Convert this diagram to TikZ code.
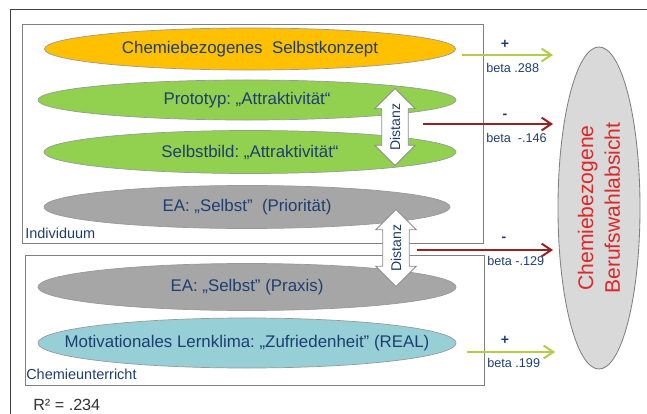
\documentclass[tikz,border=0pt]{standalone}
\usepackage{fontspec}
\setmainfont{Liberation Sans}
\usepackage{xcolor}
\usetikzlibrary{shapes.geometric,shapes.arrows,arrows.meta}

\definecolor{textblau}{RGB}{31,62,112}
\definecolor{orangeell}{RGB}{255,192,0}
\definecolor{gruenell}{RGB}{146,208,80}
\definecolor{grauell}{RGB}{166,166,166}
\definecolor{tuerkisell}{RGB}{150,208,214}
\definecolor{plusgruen}{RGB}{180,205,70}
\definecolor{minusrot}{RGB}{150,35,35}
\definecolor{absichtrot}{RGB}{220,40,40}

\begin{document}
\begin{tikzpicture}[
    x=0.025cm, y=-0.025cm,
    font=\fontsize{12}{14}\selectfont,
    ell/.style={ellipse, draw=black!40, line width=0.5pt, inner sep=0pt,
      minimum width=10.45cm, minimum height=1.05cm},
    txt/.style={text=textblau, inner sep=0pt},
    rahmen/.style={draw=black!50, line width=0.6pt},
    gruppe/.style={text=textblau, font=\fontsize{10.3}{12}\selectfont, inner sep=0pt, anchor=base west},
    dist/.style={double arrow, rotate=90, draw=black!45, fill=white, line width=0.6pt,
      text=textblau, font=\fontsize{10}{12}\selectfont, inner xsep=1pt, inner ysep=5.5pt,
      minimum height=1.72cm, double arrow head extend=0.175cm},
    pfeilplus/.style={-{Straight Barb[length=2.4mm, width=3.2mm]}, line width=1.4pt, plusgruen},
    pfeilminus/.style={-{Straight Barb[length=2.4mm, width=3.2mm]}, line width=1.4pt, minusrot},
    vz/.style={text=textblau, font=\fontsize{10}{12}\bfseries\selectfont, inner sep=0pt},
    beta/.style={text=textblau, font=\fontsize{9}{11}\selectfont, inner sep=0pt, anchor=base west}
  ]
    \useasboundingbox (0,0) rectangle (647,414);
    % outer frame
    \draw[black!75, line width=0.7pt] (10,414) -- (10,9) -- (647,9);
    % groups
    \draw[rahmen] (22,24) rectangle (483,243);
    \draw[rahmen] (25,255) rectangle (484,385);
    \node[gruppe] (individuum) at (25,238) {Individuum};
    \node[gruppe] (unterricht) at (26,379) {Chemieunterricht};
    % predictors
    \node[ell, fill=orangeell, minimum width=10.275cm] (selbst) at (250,49) {};
    \node[txt] (selbsttxt) at (selbst) {Chemiebezogenes\ \ Selbstkonzept};
    \node[ell, fill=gruenell, minimum height=1cm] (proto) at (247,100) {};
    \node[txt] (prototxt) at (proto) {Prototyp:\ „Attraktivität“};
    \node[ell, fill=gruenell, minimum width=10.3cm, minimum height=1.075cm] (bild) at (250,152) {};
    \node[txt] (bildtxt) at (bild) {Selbstbild:\ „Attraktivität“};
    \node[ell, fill=grauell, minimum width=10.15cm, minimum height=1.075cm] (prio) at (247,207) {};
    \node[txt] (priotxt) at (prio) {EA:\ „Selbst"\ \ (Priorität)};
    \node[ell, fill=grauell, minimum height=1.175cm] (praxis) at (247,287) {};
    \node[txt] (praxistxt) at (praxis) {EA:\ „Selbst" (Praxis)};
    \node[ell, fill=tuerkisell, minimum height=1.25cm] (motiv) at (247,343) {};
    \node[txt] (motivtxt) at (motiv) {Motivationales\ Lernklima:\ „Zufriedenheit"\ (REAL)};
    % criterion
    \node[ellipse, draw=black!50, line width=0.6pt, fill=black!15, minimum width=2.05cm,
      minimum height=8.05cm] (absicht) at (599,208) {};
    \node[rotate=90, align=center, text=absichtrot, font=\fontsize{15}{19}\selectfont]
      (absichttxt) at (absicht) {Chemiebezogene\\Berufswahlabsicht};
    % distances
    \node[dist] (dist1) at (395,127) {Distanz};
    \node[dist] (dist2) at (396,248) {Distanz};
    % paths
    \coordinate (ziel) at (553,0);
    \draw[pfeilplus] ([shift={(6,6)}]selbst.east) coordinate (s1) -- (s1 -| ziel);
    \draw[pfeilminus] ([shift={(28,-3)}]dist1.center) coordinate (s2) -- (s2 -| ziel);
    \draw[pfeilminus] ([shift={(21,2)}]dist2.center) coordinate (s3) -- (s3 -| ziel);
    \draw[pfeilplus] ([shift={(11,9)}]motiv.east) coordinate (s4) -- ([xshift=0.05cm]s4 -| ziel);
    \node[vz] (vz1) at (505,44) {+};
    \node[beta] (beta1) at (486,72) {beta .288};
    \node[vz] (vz2) at (505,116) {-};
    \node[beta] (beta2) at (486,142) {beta\ \ -.146};
    \node[vz] (vz3) at (504,239) {-};
    \node[beta] (beta3) at (487,265) {beta -.129};
    \node[vz] (vz4) at (505,340) {+};
    \node[beta] (beta4) at (487,367) {beta .199};
    \node[anchor=base west, inner sep=0pt, text=black!80, font=\fontsize{11.5}{13}\selectfont]
      (rquadrat) at (33,410) {R² = .234};
  \end{tikzpicture}
\end{document}
